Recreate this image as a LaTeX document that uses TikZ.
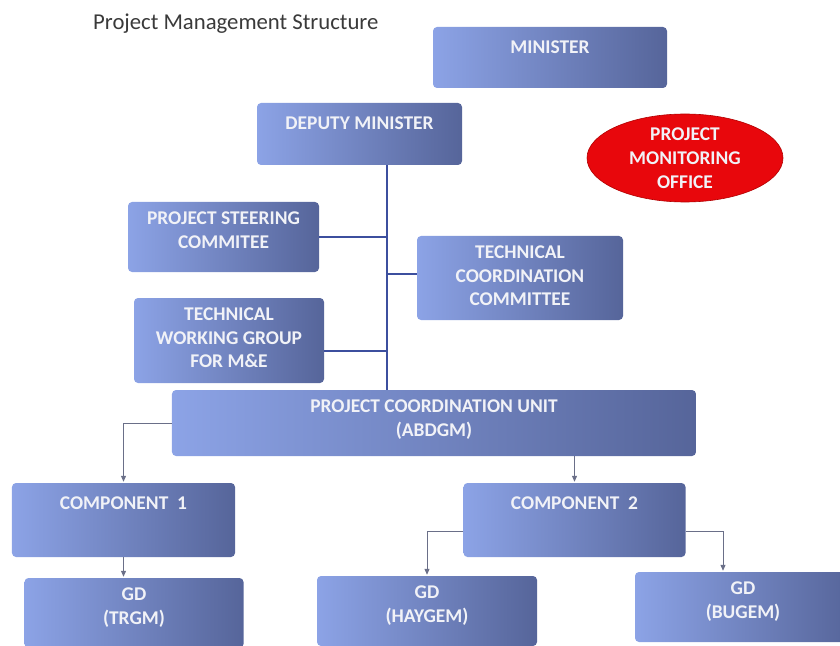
\documentclass[tikz,border=0pt]{standalone}
\usepackage{fontspec}
\setmainfont{Carlito}
\usetikzlibrary{arrows.meta,shapes.geometric}

\definecolor{boxlt}{HTML}{8CA3E6}
\definecolor{boxdk}{HTML}{56659A}
\definecolor{boxtxt}{HTML}{F1F2F7}
\definecolor{trunkblue}{HTML}{3C4F9E}
\definecolor{arrgray}{HTML}{6A6F88}
\definecolor{pmored}{HTML}{E8070C}
\definecolor{titlegray}{HTML}{3A3A3A}

\tikzset{
  unit/.style={rounded corners=4bp, left color=boxlt, right color=boxdk, inner sep=0pt},
  unittext/.style={anchor=north, yshift=-9.4bp, inner sep=0pt, align=center, text=boxtxt,
    font=\fontsize{19.5}{24}\selectfont\bfseries, execute at begin node=\strut},
  office/.style={ellipse, fill=pmored, draw=red!70!black, line width=0.6bp, inner sep=0pt,
    align=center, text=boxtxt, font=\fontsize{19.5}{24}\selectfont\bfseries},
  trunk/.style={draw=trunkblue, line width=2.4bp},
  feed/.style={draw=arrgray, line width=1bp, shorten >=1bp, -{Triangle[width=5bp,length=6bp]}}
}

\begin{document}
\begin{tikzpicture}[x=1bp, y=-1bp]
  \useasboundingbox (0,0) rectangle (840,646);
  \clip (0,0) rectangle (840,646);

  \node[font=\fontsize{22.8}{27}\selectfont, text=titlegray, anchor=base west, inner sep=0pt] (title) at (93,30) {Project Management Structure};

  % top of the structure
  \node[unit, minimum width=234bp, minimum height=61bp, label={[unittext]north:MINISTER}] (min) at (550,57.5) {};
  \node[unit, minimum width=205bp, minimum height=62bp, label={[unittext]north:DEPUTY MINISTER}] (dm) at (359.5,134) {};
  \node[office, minimum width=196bp, minimum height=88bp] (pmo) at (685,158) {PROJECT\\MONITORING\\OFFICE};

  % committees
  \node[unit, minimum width=191bp, minimum height=70bp, label={[unittext]north:PROJECT STEERING\\COMMITEE}] (psc) at (223.5,237) {};
  \node[unit, minimum width=206bp, minimum height=84bp, label={[unittext]north:TECHNICAL\\COORDINATION\\COMMITTEE}] (tcc) at (520,278) {};
  \node[unit, minimum width=190bp, minimum height=85bp, label={[unittext]north:TECHNICAL\\WORKING GROUP\\FOR M\&E}] (twg) at (229,340.5) {};

  % coordination unit and components
  \node[unit, minimum width=524bp, minimum height=66bp, label={[unittext]north:PROJECT COORDINATION UNIT\\(ABDGM)}] (pcu) at (434,423) {};
  \node[unit, minimum width=223bp, minimum height=74bp, label={[unittext]north:COMPONENT\ \ 1}] (comp1) at (123.5,520) {};
  \node[unit, minimum width=222bp, minimum height=74bp, label={[unittext]north:COMPONENT\ \ 2}] (comp2) at (574.5,520) {};

  % general directorates
  \node[unit, minimum width=219bp, minimum height=70bp, label={[unittext]north:GD\\(TRGM)}] (trgm) at (134,613) {};
  \node[unit, minimum width=220bp, minimum height=70bp, label={[unittext]north:GD\\(HAYGEM)}] (haygem) at (427,611) {};
  \node[unit, minimum width=216bp, minimum height=70bp, label={[unittext]north:GD\\(BUGEM)}] (bugem) at (743,607) {};

  % spine from the deputy minister down to the PCU
  \coordinate (spine) at (387,0);
  \draw[trunk] (dm.south -| spine) -- (pcu.north -| spine);
  \draw[trunk] (psc.east) -- (psc.east -| spine);
  \draw[trunk] ([yshift=4bp]tcc.west) -- ([yshift=4bp]tcc.west -| spine);
  \draw[trunk] ([yshift=-10.5bp]twg.east) -- ([yshift=-10.5bp]twg.east -| spine);

  % arrows to the components and directorates
  \draw[feed] (pcu.west) -| (comp1.north);
  \draw[feed] (comp2.north |- pcu.south) -- (comp2.north);
  \draw[feed] (comp1.south) -- (comp1.south |- trgm.north);
  \draw[feed] ([yshift=-11bp]comp2.west) -| (haygem.north);
  \draw[feed] ([yshift=-11bp]comp2.east) -| ([xshift=-20bp]bugem.north);
\end{tikzpicture}
\end{document}
